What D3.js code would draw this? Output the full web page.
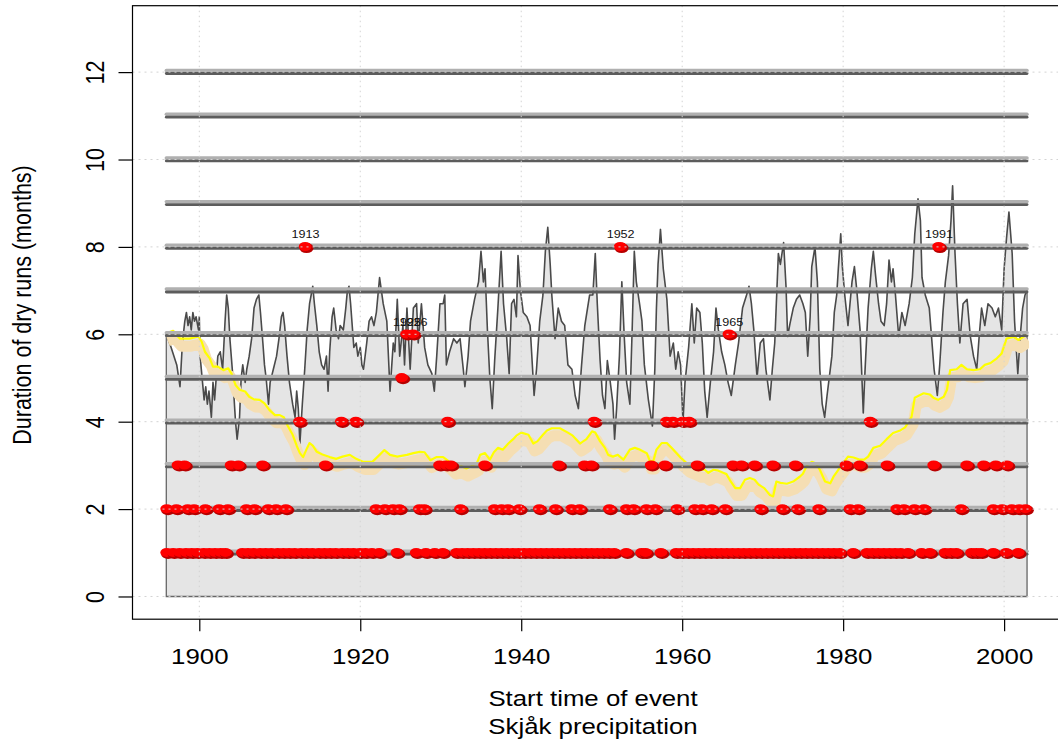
<!DOCTYPE html>
<html>
<head>
<meta charset="utf-8">
<script src="https://cdn.jsdelivr.net/npm/d3@7"></script>
<style>
  body { margin: 0; background: #fff; }
  svg { display: block; }
  text { font-family: "Liberation Sans", Arial, Helvetica, sans-serif; fill: #000; }
</style>
</head>
<body>
<svg id="chart" width="1058" height="742"></svg>
<script>
// Running duration of dry spells (months) against time: [year, months]
const runSeries = [
  [1895.9,6.0],[1896.5,5.7],[1897.2,5.3],[1897.6,4.8],[1897.9,5.8],[1898.2,6.3],[1898.4,6.5],[1898.6,6.2],
  [1898.8,6.4],[1899.0,6.1],[1899.2,6.5],[1899.4,6.3],[1899.6,6.4],[1899.9,6.1],[1900.0,6.4],[1900.1,5.5],
  [1900.4,4.9],[1900.6,4.5],[1900.8,4.8],[1901.0,4.4],[1901.2,4.7],[1901.5,4.1],[1901.7,4.9],[1901.9,4.5],
  [1902.3,5.5],[1902.6,5.6],[1902.9,5.2],[1903.2,6.3],[1903.4,6.9],[1903.6,6.6],[1903.8,5.9],[1904.1,5.2],
  [1904.3,4.6],[1904.5,4.0],[1904.7,3.6],[1905.0,4.1],[1905.2,5.0],[1905.4,5.3],[1905.7,4.9],[1905.9,5.2],
  [1906.2,5.5],[1906.5,5.9],[1906.8,6.6],[1907.1,6.8],[1907.4,6.9],[1907.6,6.5],[1907.9,5.8],[1908.1,5.3],
  [1908.3,5.0],[1908.6,4.4],[1908.8,4.9],[1909.2,5.2],[1909.6,5.5],[1909.9,5.9],[1910.2,6.4],[1910.4,6.5],
  [1910.6,6.2],[1910.9,5.5],[1911.2,4.9],[1911.6,4.4],[1911.9,4.1],[1912.1,4.7],[1912.3,4.3],[1912.5,3.5],
  [1912.8,4.4],[1913.1,5.2],[1913.4,6.1],[1913.7,6.7],[1914.1,7.1],[1914.3,6.7],[1914.6,6.2],[1914.9,5.6],
  [1915.2,5.3],[1915.5,5.2],[1915.8,5.5],[1916.0,4.7],[1916.2,5.6],[1916.5,6.4],[1916.7,6.6],[1917.0,6.1],
  [1917.3,5.9],[1917.5,6.2],[1917.9,6.1],[1918.2,6.6],[1918.4,7.0],[1918.6,7.1],[1918.8,6.7],[1919.0,6.2],
  [1919.2,5.7],[1919.5,5.8],[1919.7,5.5],[1920.0,5.7],[1920.2,5.3],[1920.4,5.2],[1920.8,5.8],[1921.1,6.3],
  [1921.4,6.4],[1921.7,6.2],[1922.0,6.5],[1922.4,7.3],[1922.85,6.7],[1923.3,6.3],[1923.7,4.7],[1924.1,5.8],
  [1924.3,5.6],[1924.6,6.8],[1924.9,5.5],[1925.3,6.2],[1925.5,5.3],[1925.8,6.6],[1926.2,5.2],[1926.6,6.6],
  [1927.0,6.7],[1927.2,5.8],[1927.6,6.7],[1928.0,5.7],[1928.4,5.3],[1928.9,5.1],[1929.2,4.7],[1929.5,5.5],
  [1929.9,6.7],[1930.3,6.7],[1930.5,6.9],[1930.7,5.3],[1931.1,5.6],[1931.6,5.9],[1932.0,5.8],[1932.4,5.9],
  [1932.8,5.2],[1933.0,4.8],[1933.4,5.5],[1933.7,6.3],[1934.2,6.8],[1934.7,7.2],[1935.0,7.9],[1935.3,7.2],
  [1935.5,7.5],[1935.8,6.1],[1936.1,5.0],[1936.4,4.3],[1936.7,5.4],[1937.1,6.6],[1937.5,7.9],[1937.8,6.7],
  [1938.2,5.9],[1938.5,5.1],[1938.8,6.7],[1939.1,6.8],[1939.4,6.4],[1939.6,7.8],[1939.9,7.0],[1940.25,6.5],
  [1940.7,6.4],[1941.1,6.2],[1941.6,4.6],[1941.9,5.2],[1942.3,6.3],[1942.7,6.9],[1943.0,7.9],[1943.3,8.45],
  [1943.6,7.6],[1943.8,6.9],[1944.2,5.9],[1944.6,6.6],[1945.0,6.3],[1945.4,6.2],[1945.8,5.3],[1946.3,5.2],
  [1946.7,4.6],[1947.1,4.3],[1947.5,5.3],[1947.9,6.2],[1948.5,6.9],[1948.9,6.9],[1949.2,7.85],[1949.45,6.7],
  [1949.8,5.4],[1950.1,4.6],[1950.4,4.3],[1950.7,5.4],[1951.0,5.0],[1951.4,4.4],[1951.6,3.6],[1951.85,4.3],
  [1952.2,5.5],[1952.5,7.2],[1952.8,5.95],[1953.1,4.9],[1953.5,4.4],[1953.8,6.2],[1954.05,7.9],[1954.3,7.2],
  [1954.7,6.7],[1955.0,6.3],[1955.3,5.3],[1955.8,4.5],[1956.3,3.9],[1956.6,5.2],[1956.8,6.6],[1957.0,7.6],
  [1957.3,8.4],[1957.65,7.5],[1958.1,6.8],[1958.5,5.5],[1958.9,5.8],[1959.2,5.2],[1959.5,5.6],[1959.8,5.3],
  [1960.1,4.0],[1960.35,4.9],[1960.8,5.7],[1961.2,6.7],[1961.5,5.8],[1961.8,6.6],[1962.2,6.5],[1962.5,5.8],
  [1962.8,4.7],[1963.1,4.1],[1963.5,4.9],[1963.9,5.6],[1964.2,6.6],[1964.5,6.1],[1964.9,5.6],[1965.3,5.3],
  [1965.7,4.9],[1966.1,4.6],[1966.6,5.3],[1967.0,5.8],[1967.5,6.6],[1968.0,6.9],[1968.3,7.1],[1968.6,6.7],
  [1968.9,6.1],[1969.3,5.0],[1969.7,5.8],[1970.1,5.9],[1970.4,5.2],[1970.9,4.5],[1971.2,5.2],[1971.5,5.8],
  [1971.95,7.85],[1972.2,7.6],[1972.6,8.1],[1972.9,7.1],[1973.1,5.95],[1973.4,6.25],[1973.8,6.6],[1974.2,6.8],
  [1974.6,6.9],[1975.0,6.7],[1975.3,6.5],[1975.6,5.5],[1975.9,6.4],[1976.1,7.55],[1976.5,8.0],[1976.8,7.2],
  [1977.1,5.2],[1977.4,4.4],[1977.7,4.1],[1978.0,4.6],[1978.2,4.9],[1978.6,5.5],[1978.9,6.5],[1979.2,6.9],
  [1979.4,7.5],[1979.7,8.3],[1979.9,7.55],[1980.2,6.9],[1980.6,6.2],[1981.1,7.2],[1981.4,7.55],[1981.7,7.0],
  [1982.1,6.1],[1982.5,4.2],[1982.7,5.1],[1983.1,6.6],[1983.5,7.5],[1983.75,7.9],[1984.0,7.4],[1984.4,6.7],
  [1984.7,6.3],[1985.1,6.2],[1985.4,6.7],[1985.7,7.7],[1986.0,7.2],[1986.2,7.5],[1986.5,6.9],[1986.9,5.95],
  [1987.3,6.5],[1987.7,6.2],[1988.2,6.7],[1988.6,7.3],[1988.9,8.3],[1989.3,9.1],[1989.6,8.6],[1989.8,7.3],
  [1990.2,6.9],[1990.7,6.6],[1991.0,5.9],[1991.3,5.2],[1991.7,4.6],[1992.0,5.3],[1992.4,6.5],[1992.7,7.2],
  [1993.1,7.8],[1993.4,8.6],[1993.6,9.4],[1993.9,7.85],[1994.2,6.7],[1994.5,5.8],[1994.9,6.7],[1995.4,6.8],
  [1995.8,5.95],[1996.2,5.5],[1996.6,5.2],[1996.9,5.95],[1997.2,6.6],[1997.6,6.2],[1998.0,6.7],[1998.5,6.6],
  [1998.9,6.4],[1999.3,6.6],[1999.7,6.1],[2000.0,7.5],[2000.3,8.2],[2000.6,8.8],[2001.0,7.85],[2001.3,6.3],
  [2001.7,5.1],[2002.0,5.95],[2002.3,6.6],[2002.6,6.9],[2002.85,7.0]
];

// Smoothed trend of dry-run duration: [year, months]
const trendSeries = [
  [1895.9,6.02],[1896.75,6.08],[1897.6,5.9],[1898.8,5.9],[1899.9,5.95],[1900.3,5.83],[1900.7,5.6],[1901.3,5.45],
  [1901.7,5.26],[1902.3,5.26],[1903.0,5.18],[1903.6,5.22],[1904.0,5.1],[1904.5,4.84],[1905.0,4.73],[1905.7,4.69],
  [1906.2,4.57],[1906.8,4.51],[1907.5,4.5],[1908.1,4.42],[1908.7,4.27],[1909.4,4.15],[1910.0,4.15],[1910.5,4.1],
  [1911.0,3.9],[1911.6,3.7],[1912.1,3.45],[1912.5,3.28],[1912.9,3.19],[1913.4,3.4],[1913.7,3.51],[1914.1,3.45],
  [1914.6,3.31],[1915.3,3.25],[1916.2,3.19],[1917.0,3.15],[1917.8,3.2],[1918.7,3.24],[1919.5,3.15],[1920.4,3.08],
  [1921.5,3.08],[1922.4,3.24],[1923.0,3.35],[1923.7,3.24],[1924.6,3.2],[1925.8,3.24],[1926.6,3.28],[1927.4,3.31],
  [1928.0,3.3],[1928.7,3.12],[1929.5,3.19],[1930.3,3.19],[1931.1,3.08],[1931.7,2.97],[1932.4,3.0],[1933.2,2.93],
  [1934.0,3.0],[1934.5,3.05],[1934.9,3.24],[1935.5,3.28],[1936.1,3.13],[1936.6,3.3],[1937.1,3.4],[1937.7,3.36],
  [1938.4,3.5],[1939.0,3.6],[1939.4,3.68],[1940.0,3.75],[1940.9,3.7],[1941.5,3.5],[1942.0,3.55],[1942.7,3.7],
  [1943.2,3.8],[1943.8,3.85],[1944.8,3.85],[1945.8,3.75],[1946.4,3.68],[1947.3,3.5],[1948.1,3.6],[1948.8,3.78],
  [1949.2,3.75],[1949.8,3.55],[1950.4,3.4],[1950.8,3.24],[1951.4,3.2],[1952.0,3.24],[1952.7,3.13],[1953.5,3.36],
  [1954.1,3.4],[1954.75,3.36],[1955.6,3.28],[1956.0,3.09],[1956.4,3.09],[1956.8,3.36],[1957.45,3.51],[1958.1,3.51],
  [1958.7,3.4],[1959.3,3.28],[1959.9,3.16],[1960.8,3.01],[1961.5,2.96],[1962.2,2.9],[1962.8,2.9],[1963.25,2.83],
  [1963.9,2.9],[1964.5,2.88],[1965.1,2.83],[1965.5,2.8],[1965.9,2.67],[1966.6,2.48],[1967.2,2.48],[1967.8,2.67],
  [1968.4,2.71],[1969.0,2.67],[1969.5,2.56],[1970.2,2.48],[1970.9,2.32],[1971.3,2.29],[1971.7,2.63],[1972.2,2.6],
  [1973.0,2.58],[1973.8,2.63],[1974.6,2.74],[1975.0,2.81],[1975.5,3.0],[1976.1,3.08],[1976.6,3.05],[1977.1,2.9],
  [1977.75,2.63],[1978.4,2.59],[1978.8,2.74],[1979.4,2.9],[1980.0,3.05],[1980.6,3.2],[1981.3,3.18],[1982.1,3.13],
  [1982.6,3.13],[1983.1,3.2],[1983.75,3.4],[1984.6,3.45],[1985.4,3.6],[1986.2,3.74],[1987.1,3.8],[1987.7,3.87],
  [1988.5,4.11],[1988.9,4.55],[1990.0,4.65],[1990.8,4.62],[1991.2,4.55],[1991.8,4.5],[1992.5,4.57],[1992.9,4.73],
  [1993.3,5.18],[1994.1,5.2],[1994.7,5.3],[1995.4,5.2],[1996.2,5.18],[1997.0,5.2],[1997.6,5.3],[1998.3,5.34],
  [1999.1,5.45],[1999.7,5.56],[2000.3,5.9],[2001.2,5.94],[2001.8,5.87],[2002.4,5.94],[2002.9,6.02]
];

// Start years of dry runs, grouped by their duration in months
const runs1 = [1896.0, 1896.8, 1897.6, 1898.4, 1899.1, 1899.8, 1900.6, 1901.3, 1902.0, 1902.7, 1903.3,
  1905.4, 1906.1, 1906.8, 1907.6, 1908.3, 1909.0, 1909.8, 1910.5, 1911.2, 1911.9, 1912.7, 1913.4, 1914.1,
  1914.9, 1915.6, 1916.3, 1917.0, 1917.8, 1918.5, 1919.2, 1920.0, 1920.7, 1921.5, 1922.4,
  1924.6, 1927.0, 1928.2, 1929.3, 1930.3,
  1932.0, 1932.7, 1933.4, 1934.1, 1934.8, 1935.5, 1936.2, 1936.9, 1937.6, 1938.3, 1939.0, 1939.7, 1940.4,
  1941.1, 1941.8, 1942.5, 1943.2, 1943.9, 1944.6, 1945.3, 1946.0, 1946.7, 1947.4, 1948.1, 1948.8, 1949.5,
  1950.2, 1950.9, 1951.6,
  1953.1, 1955.0, 1955.5, 1957.4,
  1959.3, 1960.0, 1960.7, 1961.4, 1962.1, 1962.8, 1963.5, 1964.2, 1964.9, 1965.6, 1966.3, 1967.0, 1967.7,
  1968.4, 1969.1, 1969.8, 1970.5, 1971.2, 1971.9, 1972.6, 1973.3, 1974.0, 1974.7, 1975.4, 1976.1, 1976.8,
  1977.5, 1978.2, 1978.9, 1979.6,
  1981.3,
  1983.0, 1983.7, 1984.4, 1985.1, 1985.8, 1986.5, 1987.2, 1988.1,
  1989.8, 1990.8, 1992.7, 1993.4, 1994.1, 1996.0, 1996.6, 1997.2, 1998.7, 2000.3, 2001.8];
const runs2 = [1896.0, 1897.2, 1898.6, 1899.4, 1900.8, 1902.5, 1903.6, 1905.9, 1906.9, 1908.6, 1909.6,
  1910.8, 1922.0, 1923.1, 1924.1, 1924.9, 1927.4, 1928.0, 1932.5, 1936.7, 1937.6, 1938.4, 1939.8, 1942.3,
  1944.3, 1946.3, 1947.3, 1951.0, 1953.1, 1954.0, 1955.6, 1956.7, 1959.4, 1961.6, 1962.5, 1963.7, 1965.4,
  1969.8, 1972.5, 1974.4, 1977.0, 1980.9, 1981.9, 1986.7, 1987.6, 1988.9, 1990.1, 1994.7, 1998.7, 1999.8,
  2001.0, 2001.9, 2002.7];
const runs3 = [1897.4, 1898.2, 1904.0, 1904.9, 1907.9, 1915.7, 1929.9, 1930.7, 1931.3, 1935.5, 1944.7,
  1947.9, 1948.75, 1956.2, 1957.9, 1961.9, 1966.35, 1967.4, 1969.05, 1971.3, 1974.1, 1980.4, 1982.1,
  1985.5, 1991.3, 1995.4, 1997.5, 1999.0, 2000.4];
const runs4 = [1912.5, 1917.7, 1919.5, 1930.9, 1949.1, 1958.1, 1958.9, 1960.1, 1960.9, 1983.4];
const runs5 = [1925.2];
const runs6 = [1925.8, 1926.6, 1965.85];
const runs8 = [1913.2, 1952.35, 1991.9];

// Reference levels drawn as bars, and axis ticks
const levels = [1, 2, 3, 4, 5, 6, 7, 8, 9, 10, 11, 12];
const xTicks = [1900, 1920, 1940, 1960, 1980, 2000];
const yTicks = [0, 2, 4, 6, 8, 10, 12];
const labelMinDuration = 6;

const xTitle = ["Start time of event", "Skjåk precipitation"];
const yTitle = "Duration of dry runs (months)";

// ---- layout ----
const svg = d3.select("#chart");
const box = { left: 132.5, right: 1062, top: 5.7, bottom: 619.2 };
const SX = 1.2;            // horizontal stretch of the lettering
const FS = 21.5;           // axis font size

const x = d3.scaleLinear().domain([1891.7, 2005.95]).range([132.5, 1052]);
const y = d3.scaleLinear().domain([-0.52, 13.52]).range([box.bottom, box.top]);

const events = [];
[[1, runs1], [2, runs2], [3, runs3], [4, runs4], [5, runs5], [6, runs6], [8, runs8]]
  .forEach(([dur, arr]) => arr.forEach(t => events.push({ t, dur })));

const x0 = runSeries[0][0], x1 = runSeries[runSeries.length - 1][0];

// ---- shaded area under the running duration ----
const area = d3.area().x(d => x(d[0])).y0(y(0)).y1(d => y(d[1]));
svg.append("path").datum(runSeries).attr("d", area).attr("fill", "#e5e5e5");

// border of the shaded area (sides and base)
const first = runSeries[0], last = runSeries[runSeries.length - 1];
svg.append("path")
  .attr("d", d3.line()([[x(first[0]), y(first[1])], [x(first[0]), y(0)], [x(last[0]), y(0)], [x(last[0]), y(last[1])]]))
  .attr("fill", "none").attr("stroke", "#666").attr("stroke-width", 1.3);

// running duration line
const line = d3.line().x(d => x(d[0])).y(d => y(d[1]));
svg.append("path").datum(runSeries).attr("d", line)
  .attr("fill", "none").attr("stroke", "#4a4a4a").attr("stroke-width", 1.6)
  .attr("stroke-linejoin", "round");

// ---- smoothed trend: wheat band with yellow edge ----
const clip = svg.append("clipPath").attr("id", "trendClip");
clip.append("rect").attr("x", x(x0)).attr("y", box.top)
  .attr("width", x(x1) - x(x0) + 2).attr("height", box.bottom - box.top);
const trend = svg.append("g").attr("clip-path", "url(#trendClip)");
trend.append("path").datum(trendSeries).attr("d", line)
  .attr("transform", "translate(1.5,7.5)")
  .attr("fill", "none").attr("stroke", "#f5deb3").attr("stroke-width", 11)
  .attr("stroke-linejoin", "round");
trend.append("path").datum(trendSeries).attr("d", line)
  .attr("fill", "none").attr("stroke", "#ffff00").attr("stroke-width", 2.2)
  .attr("stroke-linejoin", "round");

// ---- level bars ----
const bars = svg.append("g");
levels.forEach(v => {
  bars.append("line").attr("x1", x(x0)).attr("x2", x(x1))
    .attr("y1", y(v) - 1.6).attr("y2", y(v) - 1.6)
    .attr("stroke", "#b0b0b0").attr("stroke-width", 3.4).attr("stroke-linecap", "round");
  bars.append("line").attr("x1", x(x0)).attr("x2", x(x1))
    .attr("y1", y(v) + 1.4).attr("y2", y(v) + 1.4)
    .attr("stroke", "#5c5c5c").attr("stroke-width", 2.8).attr("stroke-linecap", "round");
});

// ---- event markers ----
const dots = svg.append("g");
events.forEach(e => {
  const cx = x(e.t), cy = y(e.dur);
  dots.append("ellipse").attr("cx", cx + 1).attr("cy", cy + 1.2).attr("rx", 7).attr("ry", 5)
    .attr("fill", "#b80000");
  dots.append("ellipse").attr("cx", cx - 0.4).attr("cy", cy - 0.4).attr("rx", 6.4).attr("ry", 4.5)
    .attr("fill", "#ff0000");
});

// year labels for the longest runs
events.filter(e => e.dur >= labelMinDuration).forEach(e => {
  svg.append("text")
    .attr("transform", `translate(${x(e.t)},${y(e.dur) - 8.5}) scale(${SX},1)`)
    .attr("text-anchor", "middle").style("font-size", "10.5px").style("fill", "#111")
    .text(Math.floor(e.t));
});

// ---- dotted grid on top ----
const grid = svg.append("g").attr("stroke", "#d3d3d3").attr("stroke-width", 1);
xTicks.forEach(t => grid.append("line").attr("x1", x(t)).attr("x2", x(t))
  .attr("y1", box.top).attr("y2", box.bottom).attr("stroke-dasharray", "1.5,3.5"));
yTicks.forEach(t => grid.append("line").attr("x1", box.left).attr("x2", box.right)
  .attr("y1", y(t)).attr("y2", y(t)).attr("stroke-dasharray", "2,4"));

// ---- frame and axes ----
svg.append("rect").attr("x", box.left).attr("y", box.top)
  .attr("width", box.right - box.left).attr("height", box.bottom - box.top)
  .attr("fill", "none").attr("stroke", "#000").attr("stroke-width", 1.2);

const gx = svg.append("g").attr("transform", `translate(0,${box.bottom})`)
  .call(d3.axisBottom(x).tickValues(xTicks).tickSize(12).tickFormat(d3.format("d")));
gx.select(".domain").remove();
gx.selectAll("line").attr("stroke", "#000").attr("stroke-width", 1.2);
gx.selectAll("text").attr("y", 0).attr("dy", 0)
  .attr("transform", `translate(0,45) scale(${SX},1)`)
  .style("font-size", FS + "px").attr("font-family", null);

const gy = svg.append("g").attr("transform", `translate(${box.left},0)`)
  .call(d3.axisLeft(y).tickValues(yTicks).tickSize(14).tickFormat(d3.format("d")));
gy.select(".domain").remove();
gy.selectAll("line").attr("stroke", "#000").attr("stroke-width", 1.2);
gy.selectAll("text").attr("x", 0).attr("dy", 0).attr("text-anchor", "middle")
  .attr("transform", `translate(-28.5,0) scale(${SX},1) rotate(-90)`)
  .style("font-size", FS + "px").attr("font-family", null);

// axis titles
svg.append("text").attr("transform", `translate(593,706) scale(${SX},1)`)
  .attr("text-anchor", "middle").style("font-size", FS + "px").text(xTitle[0]);
svg.append("text").attr("transform", `translate(593,734) scale(${SX},1)`)
  .attr("text-anchor", "middle").style("font-size", FS + "px").text(xTitle[1]);
svg.append("text").attr("transform", `translate(31,305) scale(${SX},1) rotate(-90)`)
  .attr("text-anchor", "middle").style("font-size", FS + "px").text(yTitle);
</script>
</body>
</html>
